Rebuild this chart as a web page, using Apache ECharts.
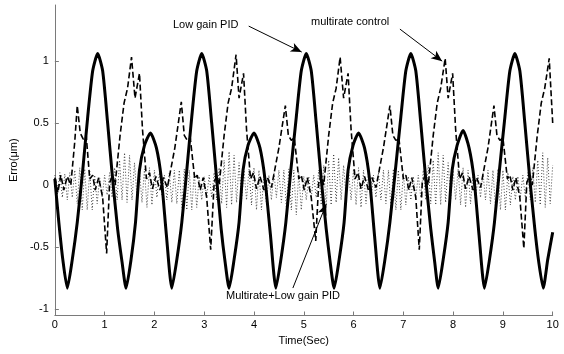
<!DOCTYPE html>
<html><head><meta charset="utf-8">
<script src="https://cdn.jsdelivr.net/npm/echarts@6/dist/echarts.min.js"></script>
<style>html,body{margin:0;padding:0;background:#fff}#c{width:564px;height:354px}</style>
</head><body><div id="c"></div>
<script>
// Low gain PID (solid)
const pidT = [0.00,0.08,0.16,0.25,0.35,0.45,0.56,0.66,0.76,0.86,0.96,1.06,1.16,1.26,1.35,1.43,1.53,1.62,1.70,1.80,1.92,2.04,2.14,2.24,2.35,2.45,2.55,2.65,2.75,2.85,2.95,3.05,3.15,3.25,3.34,3.42,3.50,3.60,3.70,3.78,3.88,4.00,4.12,4.22,4.33,4.44,4.54,4.64,4.74,4.85,4.95,5.05,5.15,5.25,5.35,5.45,5.53,5.61,5.71,5.81,5.89,5.99,6.10,6.22,6.32,6.42,6.53,6.63,6.73,6.84,6.95,7.05,7.15,7.25,7.35,7.45,7.55,7.63,7.70,7.80,7.90,7.98,8.08,8.20,8.32,8.42,8.52,8.63,8.73,8.83,8.93,9.04,9.14,9.24,9.34,9.44,9.54,9.64,9.72,9.81,9.90,10.0];
const pidV = [0.05,-0.3,-0.6,-0.83,-0.6,-0.3,0.12,0.55,0.92,1.06,0.92,0.5,0.05,-0.35,-0.62,-0.83,-0.6,-0.3,0.12,0.32,0.42,0.3,0.05,-0.4,-0.83,-0.6,-0.3,0.12,0.55,0.92,1.06,0.92,0.5,0.05,-0.35,-0.62,-0.83,-0.6,-0.3,0.12,0.32,0.42,0.3,0.05,-0.4,-0.83,-0.6,-0.3,0.12,0.55,0.92,1.06,0.92,0.5,0.05,-0.35,-0.62,-0.83,-0.6,-0.3,0.12,0.32,0.42,0.3,0.05,-0.4,-0.83,-0.6,-0.3,0.12,0.55,0.92,1.06,0.92,0.5,0.05,-0.35,-0.62,-0.83,-0.6,-0.3,0.12,0.32,0.44,0.3,0.05,-0.4,-0.83,-0.6,-0.3,0.12,0.55,0.92,1.06,0.92,0.5,0.05,-0.35,-0.62,-0.83,-0.6,-0.38];

// multirate control (dashed)
const mrT = [0.00,0.06,0.12,0.18,0.25,0.32,0.40,0.45,0.51,0.57,0.63,0.70,0.76,0.81,0.88,0.96,1.04,1.10,1.16,1.21,1.31,1.39,1.46,1.54,1.61,1.70,1.76,1.84,1.90,1.96,2.03,2.11,2.18,2.26,2.41,2.54,2.60,2.66,2.72,2.81,2.86,2.92,2.98,3.05,3.13,3.20,3.25,3.30,3.40,3.48,3.55,3.64,3.70,3.79,3.85,3.93,3.99,4.05,4.12,4.20,4.27,4.35,4.50,4.63,4.69,4.75,4.81,4.90,4.95,5.01,5.07,5.15,5.24,5.30,5.35,5.40,5.50,5.58,5.65,5.73,5.80,5.89,5.95,6.03,6.09,6.15,6.22,6.30,6.37,6.45,6.60,6.73,6.79,6.85,6.91,7.00,7.05,7.11,7.17,7.25,7.32,7.38,7.44,7.50,7.60,7.68,7.75,7.84,7.90,7.99,8.05,8.13,8.19,8.25,8.32,8.40,8.47,8.55,8.70,8.82,8.88,8.94,9.00,9.09,9.14,9.20,9.26,9.34,9.42,9.48,9.54,9.59,9.69,9.77,9.84,9.93,10.0];
const mrV = [0.06,-0.06,0.08,-0.04,0.07,0.0,0.35,0.64,0.42,0.37,0.4,0.05,0.08,-0.04,0.06,-0.1,-0.55,0.02,0.08,0.0,0.4,0.66,0.78,1.03,0.7,0.9,0.45,0.05,0.1,-0.03,0.07,-0.04,0.06,-0.02,0.3,0.67,0.4,0.36,0.38,0.05,0.08,-0.04,0.06,-0.1,-0.52,0.02,0.08,0.0,0.4,0.66,0.78,1.05,0.7,0.9,0.45,0.05,0.1,-0.03,0.07,-0.04,0.06,-0.02,0.3,0.64,0.4,0.36,0.38,0.05,0.08,-0.04,0.06,-0.1,-0.45,0.02,0.08,0.0,0.4,0.66,0.78,1.03,0.7,0.9,0.45,0.05,0.1,-0.03,0.07,-0.04,0.06,-0.02,0.3,0.64,0.4,0.36,0.38,0.05,0.08,-0.04,0.06,-0.1,-0.52,0.02,0.08,0.0,0.4,0.66,0.78,1.02,0.7,0.9,0.45,0.05,0.1,-0.03,0.07,-0.04,0.06,-0.02,0.3,0.64,0.4,0.36,0.38,0.05,0.08,-0.04,0.06,-0.1,-0.51,0.02,0.08,0.0,0.4,0.66,0.78,1.02,0.5];

// Multirate+Low gain PID (dotted), sampled every 0.05 s from 0 to 10
const comboStep = 0.05;
const comboV = [
 0.08,-0.08,0.1,-0.1,0.09,-0.12,0.1,-0.1,0.12,-0.15,
 0.14,-0.2,0.13,-0.2,0.12,-0.2,0.08,-0.15,0.06,-0.1,
 0.08,-0.08,0.1,-0.1,0.14,-0.12,0.2,-0.12,0.26,-0.14,
 0.24,-0.12,0.18,-0.1,0.12,-0.14,0.13,-0.18,0.14,-0.16,
 0.12,-0.1,0.1,-0.08,0.08,-0.12,0.1,-0.14,0.12,-0.15,
 0.12,-0.18,0.13,-0.2,0.12,-0.2,0.1,-0.18,0.07,-0.12,
 0.07,-0.1,0.08,-0.1,0.1,-0.12,0.14,-0.15,0.2,-0.18,
 0.27,-0.16,0.24,-0.14,0.18,-0.12,0.12,-0.12,0.13,-0.16,
 0.14,-0.2,0.12,-0.2,0.1,-0.15,0.08,-0.12,0.1,-0.1,
 0.12,-0.14,0.12,-0.18,0.13,-0.2,0.12,-0.24,0.1,-0.2,
 0.07,-0.12,0.07,-0.1,0.08,-0.1,0.12,-0.16,0.16,-0.18,
 0.2,-0.16,0.25,-0.14,0.22,-0.12,0.16,-0.1,0.12,-0.12,
 0.13,-0.16,0.14,-0.18,0.12,-0.15,0.1,-0.12,0.08,-0.1,
 0.1,-0.12,0.12,-0.15,0.12,-0.18,0.13,-0.2,0.12,-0.2,
 0.1,-0.16,0.07,-0.12,0.07,-0.1,0.08,-0.1,0.12,-0.12,
 0.16,-0.15,0.2,-0.16,0.26,-0.16,0.24,-0.14,0.18,-0.12,
 0.12,-0.12,0.13,-0.16,0.14,-0.18,0.12,-0.15,0.1,-0.12,
 0.08,-0.1,0.1,-0.12,0.12,-0.15,0.12,-0.18,0.13,-0.2,
 0.12,-0.2,0.1,-0.16,0.07,-0.12,0.07,-0.1,0.08,-0.1,
 0.1,-0.12,0.14,-0.14,0.2,-0.16,0.26,-0.18,0.22,-0.15,
 0.16];

const xTicks = [0,1,2,3,4,5,6,7,8,9,10];
const yTicks = [-1,-0.5,0,0.5,1];

const pidData = pidT.map((t,i)=>[t,pidV[i]]);
const mrData = mrT.map((t,i)=>[t,mrV[i]]);
const comboData = comboV.map((v,i)=>[+(i*comboStep).toFixed(2), v]);

const FONT = 'Liberation Sans, Arial, sans-serif';
const axisCol = '#7a7a7a';

const chart = echarts.init(document.getElementById('c'), null, {renderer:'canvas'});
chart.setOption({
  animation:false,
  backgroundColor:'#fff',
  grid:{left:45.5, right:11.3, top:5, bottom:38.5, containLabel:false},
  xAxis:{
    type:'value', min:0, max:10, interval:1,
    name:'Time(Sec)', nameLocation:'middle', nameGap:17,
    nameTextStyle:{fontFamily:FONT, fontSize:11, color:'#000'},
    axisLine:{show:true, onZero:false, lineStyle:{color:axisCol, width:1}},
    axisTick:{show:true, inside:true, length:4, lineStyle:{color:axisCol}},
    axisLabel:{fontFamily:FONT, fontSize:11, color:'#000', margin:4,
      customValues:xTicks},
    splitLine:{show:false}
  },
  yAxis:{
    type:'value', min:-1.05, max:1.45,
    name:'Erro(\u03bcm)', nameLocation:'middle', nameGap:29,
    nameTextStyle:{fontFamily:FONT, fontSize:11, color:'#000'},
    axisLine:{show:true, onZero:false, lineStyle:{color:axisCol, width:1}},
    axisTick:{show:true, inside:true, length:4, lineStyle:{color:axisCol}, customValues:yTicks},
    axisLabel:{fontFamily:FONT, fontSize:11, color:'#000', margin:6, customValues:yTicks},
    splitLine:{show:false}
  },
  series:[
    {name:'Multirate+Low gain PID', type:'line', data:comboData, symbol:'none',
      lineStyle:{color:'#333', width:0.9, type:[1,2]}, z:1,
      markLine:{silent:true, symbol:['none','arrow'], symbolSize:[7,11],
        lineStyle:{color:'#000', width:1, type:'solid'}, label:{show:false},
        data:[[{coord:[4.781,-0.829]},{coord:[5.451,-0.153]}]]}
    },
    {name:'multirate control', type:'line', data:mrData, symbol:'none',
      lineStyle:{color:'#000', width:1.6, type:[6,3]}, z:2,
      markLine:{silent:true, symbol:['none','arrow'], symbolSize:[7,11],
        lineStyle:{color:'#000', width:1, type:'solid'}, label:{show:false},
        data:[[{coord:[6.931,1.256]},{coord:[7.78,0.998]}]]}
    },
    {name:'Low gain PID', type:'line', data:pidData, symbol:'none', smooth:0.2,
      lineStyle:{color:'#000', width:3}, z:3,
      markLine:{silent:true, symbol:['none','arrow'], symbolSize:[7,11],
        lineStyle:{color:'#000', width:1, type:'solid'}, label:{show:false},
        data:[[{coord:[3.894,1.28]},{coord:[4.958,1.071]}]]}
    }
  ],
  graphic:[
    {type:'text', left:173, top:19, style:{text:'Low gain PID', font:'11px '+FONT, fill:'#000'}},
    {type:'text', left:311, top:16, style:{text:'multirate control', font:'11px '+FONT, fill:'#000'}},
    {type:'text', left:226, top:290, style:{text:'Multirate+Low gain PID', font:'11px '+FONT, fill:'#000'}}
  ]
});
</script></body></html>
